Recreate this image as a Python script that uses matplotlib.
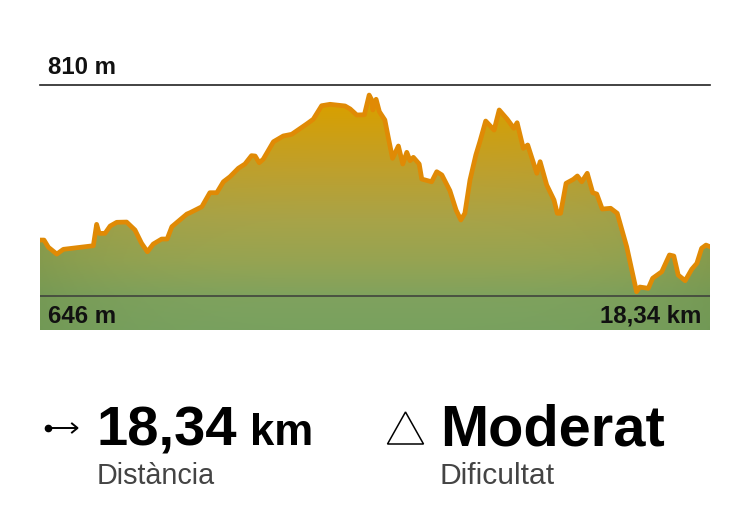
import numpy as np
import matplotlib
matplotlib.use("Agg")
import matplotlib.pyplot as plt
from matplotlib.colors import LinearSegmentedColormap, to_rgb
from matplotlib.patches import Polygon

km = [0.00,0.11,0.23,0.46,0.64,1.46,1.55,1.62,1.78,1.92,2.10,2.37,2.60,2.78,2.94,3.10,3.33,3.48,3.61,4.02,4.11,4.43,4.65,4.84,5.02,5.20,5.43,5.61,5.79,5.89,6.00,6.11,6.39,6.66,6.89,7.30,7.48,7.71,7.94,8.35,8.49,8.67,8.88,9.01,9.08,9.11,9.20,9.29,9.44,9.53,9.65,9.81,9.93,10.04,10.13,10.22,10.38,10.45,10.72,10.86,11.00,11.22,11.39,11.52,11.63,11.77,11.93,12.04,12.20,12.43,12.57,12.79,12.97,13.06,13.23,13.35,13.60,13.69,13.87,14.07,14.16,14.25,14.40,14.60,14.71,14.83,14.98,15.13,15.24,15.39,15.62,15.80,16.06,16.33,16.42,16.65,16.77,17.02,17.23,17.35,17.47,17.66,17.84,17.98,18.11,18.23,18.34]
elev = [689.5,689.5,683.9,678.6,682.3,685.1,701.7,694.7,694.7,700.4,703.3,703.5,697.3,687.0,680.4,686.4,690.3,690.3,699.9,709.7,710.8,715.4,726.3,726.3,734.8,738.7,745.3,748.6,755.1,754.8,749.6,752.3,765.9,770.4,771.7,779.7,783.4,793.9,795.0,793.7,791.4,786.7,786.9,802.2,798.4,790.6,798.9,789.3,782.8,769.8,753.0,762.6,748.6,757.7,751.2,753.8,748.6,736.9,734.8,742.6,740.1,727.9,712.8,705.1,710.3,736.2,755.6,765.9,782.0,775.0,790.6,783.4,776.4,780.7,760.8,763.4,741.4,750.4,732.3,720.6,710.3,710.3,733.6,736.7,739.3,734.8,741.4,726.3,725.3,713.6,714.2,710.3,684.3,649.3,653.0,652.0,659.8,664.9,677.9,677.1,662.3,657.9,666.8,671.4,683.1,685.6,684.3]
max_label = "810 m"
min_label = "646 m"
dist_label = "18,34 km"
y_max, y_min = 810, 646
y_floor = 619.6
x_end = 18.34

W, H = 750, 528
plt.rcParams['font.family'] = ['Liberation Sans', 'DejaVu Sans']
fig = plt.figure(figsize=(W/100, H/100), dpi=100, facecolor='white')

ax = fig.add_axes([40/W, 1-330/H, 670/W, 245/H])
ax.set_xlim(0, x_end)
ax.set_ylim(y_floor, y_max)
ax.axis('off')

# gradient fill clipped to the profile
cmap = LinearSegmentedColormap.from_list('elev', [
    (0.0, '#79A15F'), (0.13, '#7FA25E'), (0.28, '#96A452'),
    (0.46, '#A9A347'), (0.66, '#BFA02C'), (0.92, '#D8A000'), (1.0, '#D8A000')])
ny, nx = 200, 200
grad = cmap(np.linspace(0, 1, ny))[:, :3]
img = np.repeat(grad[:, None, :], nx, axis=1)
edge = np.abs(np.linspace(-1, 1, nx))**4 * 0.35
edge_col = np.array(to_rgb('#648A45'))
img = img*(1-edge[None, :, None]) + edge_col*edge[None, :, None]
im = ax.imshow(img, origin='lower', extent=[0, x_end, y_floor, y_max], aspect='auto', zorder=1)
ax.set_xlim(0, x_end)
ax.set_ylim(y_floor, y_max)
poly = Polygon(list(zip(km, elev)) + [(x_end, y_floor), (0, y_floor)], closed=True,
               transform=ax.transData, facecolor='none', edgecolor='none')
ax.add_patch(poly)
im.set_clip_path(poly)
ax.plot(km, elev, color='#E08A05', lw=3.4, solid_joinstyle='round', zorder=2)
ax.plot([0, x_end], [y_min, y_min], color='#3A3A3A', lw=1.2, alpha=0.9, zorder=3)
ax.plot([0, x_end], [y_max, y_max], color='#222222', lw=1.2, clip_on=False, zorder=3)

# overlay in pixel units for text and icons
ov = fig.add_axes([0, 0, 1, 1])
ov.set_xlim(0, W)
ov.set_ylim(H, 0)
ov.axis('off')
ov.patch.set_alpha(0)

ov.text(48, 74, max_label, fontsize=17.3, fontweight='bold', color='#111111', va='baseline')
ov.text(48, 323, min_label, fontsize=17.3, fontweight='bold', color='#111111', va='baseline')
ov.text(701, 323, dist_label, fontsize=17.3, fontweight='bold', color='#111111', va='baseline', ha='right')

ov.text(96, 445, "18,34", fontsize=40.5, fontweight='bold', color='black', va='baseline')
ov.text(250, 445, "km", fontsize=31.5, fontweight='bold', color='black', va='baseline')
ov.text(440, 445, "Moderat", fontsize=41.6, fontweight='bold', color='black', va='baseline')
ov.text(97, 484, "Distància", fontsize=20.7, color='#444444', va='baseline')
ov.text(440, 484, "Dificultat", fontsize=21.6, color='#444444', va='baseline')

# distance icon
ov.plot([48, 77], [428, 428], color='black', lw=1.4)
ov.plot([48], [428], 'o', color='black', ms=4.5)
ov.plot([72, 77.5, 72], [423.5, 428, 432.5], color='black', lw=1.4)
# difficulty icon
ov.add_patch(Polygon([(387.5, 444), (405.5, 412), (423.5, 444)], closed=True,
                     facecolor='white', edgecolor='black', lw=1.1))

fig.savefig('out.png', dpi=100)
